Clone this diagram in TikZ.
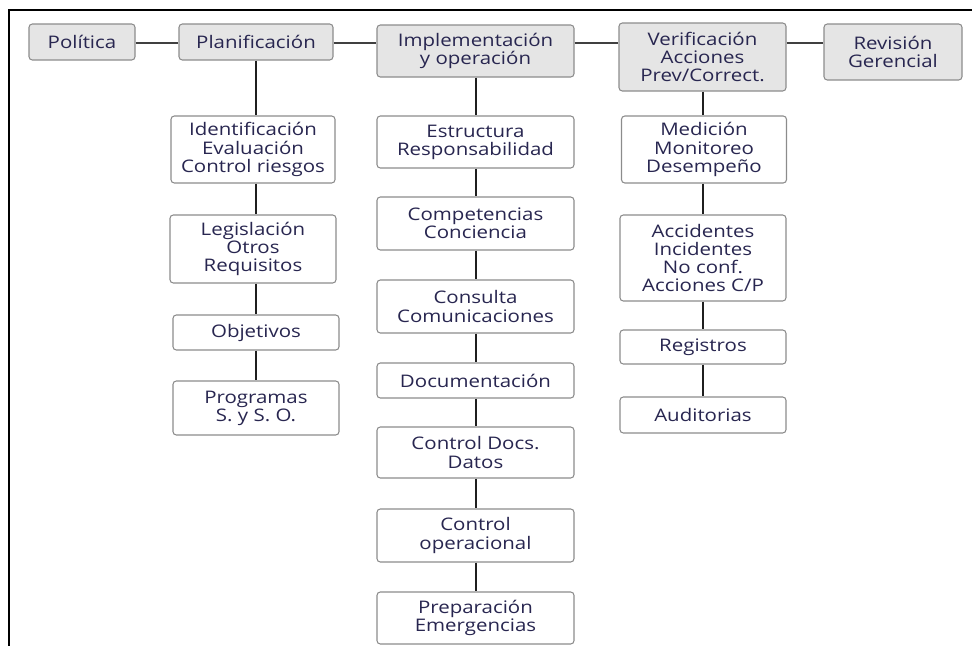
\documentclass[tikz,border=0pt]{standalone}
\usepackage{fontspec}
\setmainfont{Open Sans}[FakeStretch=1.18]
\begin{document}
\begin{tikzpicture}[x=0.75pt,y=-0.75pt,
  base/.style={draw=black!45, line width=0.8pt, rounded corners=2.5pt, inner sep=0pt,
    align=center, text=txt, font=\fontsize{13}{13.6}\selectfont},
  head/.style={base, fill=black!10},
  sub/.style={base, fill=white},
  wh/.style 2 args={minimum width=#1*0.75pt, minimum height=#2*0.75pt},
  hline/.style={draw=black!75, line width=0.8pt},
  vline/.style={draw=black!88, line width=2pt}]
\definecolor{txt}{RGB}{40,38,80}
\useasboundingbox (0,0) rectangle (972,646);
% frame
\draw[line width=1.6pt] (9,646) coordinate (fbl) -- (9,10) coordinate (ftl) -- (972,10) coordinate (ftr);
% top row
\node[head, wh={106}{36}] (pol) at (82,42) {Política};
\node[head, wh={154}{36}] (plan) at (256,42) {Planificación};
\node[head, wh={197}{52}] (impl) at (475.5,51) {Implementación\\y operación};
\node[head, wh={167}{68}] (ver) at (702.5,57) {Verificación\\Acciones\\Prev/Correct.};
\node[head, wh={138}{56}] (rev) at (893,52) {Revisión\\Gerencial};
% planificacion column
\node[sub, wh={164}{67}] (ide) at (253,149.5) {Identificación\\Evaluación\\Control riesgos};
\node[sub, wh={166}{68}] (leg) at (253,249) {Legislación\\Otros\\Requisitos};
\node[sub, wh={166}{35}] (obj) at (256,332.5) {Objetivos};
\node[sub, wh={166}{54}] (pro) at (256,408) {Programas\\S. y S. O.};
% implementacion column
\node[sub, wh={197}{52}] (est) at (475.5,142) {Estructura\\Responsabilidad};
\node[sub, wh={197}{53}] (com) at (475.5,223.5) {Competencias\\Conciencia};
\node[sub, wh={197}{53}] (con) at (475.5,306.5) {Consulta\\Comunicaciones};
\node[sub, wh={197}{35}] (doc) at (475.5,380.5) {Documentación};
\node[sub, wh={197}{51}] (cdd) at (475.5,452.5) {Control Docs.\\Datos};
\node[sub, wh={197}{53}] (cop) at (475.5,535.5) {Control\\operacional};
\node[sub, wh={197}{52}] (pre) at (475.5,618) {Preparación\\Emergencias};
% verificacion column
\node[sub, wh={165}{67}] (med) at (704,149.5) {Medición\\Monitoreo\\Desempeño};
\node[sub, wh={166}{86}] (acc) at (703,258) {Accidentes\\Incidentes\\No conf.\\Acciones C/P};
\node[sub, wh={166}{34}] (reg) at (703,347) {Registros};
\node[sub, wh={166}{36}] (aud) at (703,415) {Auditorias};
% horizontal connectors
\coordinate (hy) at (0,43);
\draw[hline] (pol.east |- hy) -- (plan.west |- hy);
\draw[hline] (plan.east |- hy) -- (impl.west |- hy);
\draw[hline] (impl.east |- hy) -- (ver.west |- hy);
\draw[hline] (ver.east |- hy) -- (rev.west |- hy);
% vertical connectors
\coordinate (px) at (256,0);
\draw[vline] (px |- plan.south) -- (px |- ide.north);
\draw[vline] (px |- ide.south) -- (px |- leg.north);
\draw[vline] (px |- leg.south) -- (px |- obj.north);
\draw[vline] (px |- obj.south) -- (px |- pro.north);
\coordinate (ix) at (476,0);
\draw[vline] (ix |- impl.south) -- (ix |- est.north);
\draw[vline] (ix |- est.south) -- (ix |- com.north);
\draw[vline] (ix |- com.south) -- (ix |- con.north);
\draw[vline] (ix |- con.south) -- (ix |- doc.north);
\draw[vline] (ix |- doc.south) -- (ix |- cdd.north);
\draw[vline] (ix |- cdd.south) -- (ix |- cop.north);
\draw[vline] (ix |- cop.south) -- (ix |- pre.north);
\coordinate (vx) at (703,0);
\draw[vline] (vx |- ver.south) -- (vx |- med.north);
\draw[vline] (vx |- med.south) -- (vx |- acc.north);
\draw[vline] (vx |- acc.south) -- (vx |- reg.north);
\draw[vline] (vx |- reg.south) -- (vx |- aud.north);
\end{tikzpicture}
\end{document}
